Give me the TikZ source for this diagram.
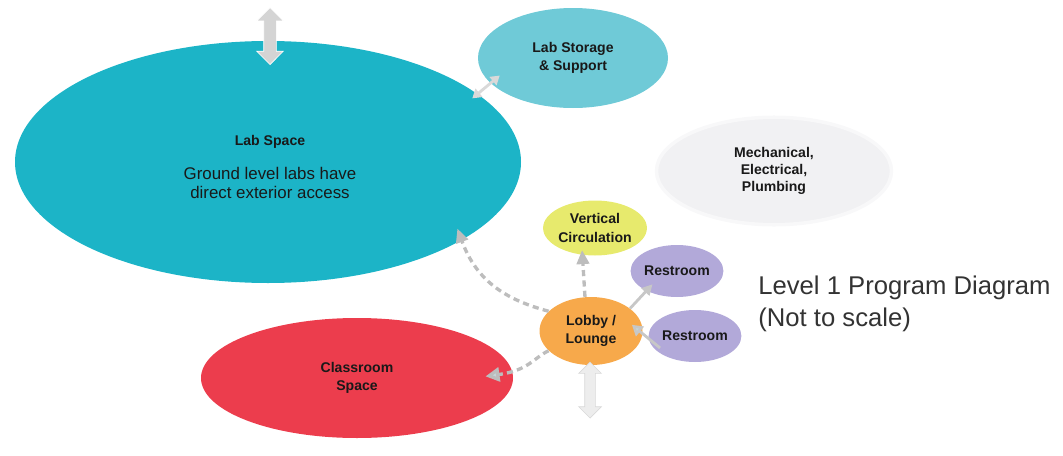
\documentclass[tikz,border=0pt]{standalone}
\usepackage{fontspec}
\setmainfont{Liberation Sans}
\usetikzlibrary{shapes.geometric,shapes.arrows,arrows.meta}

\definecolor{labblue}{HTML}{1CB4C7}
\definecolor{storageblue}{HTML}{6FCAD7}
\definecolor{mepgray}{HTML}{F1F1F3}
\definecolor{vertyellow}{HTML}{E7EA6D}
\definecolor{restpurple}{HTML}{B2A9D9}
\definecolor{lobbyorange}{HTML}{F7A94B}
\definecolor{classred}{HTML}{EC3D4D}
\definecolor{linkgray}{HTML}{BDBDBD}
\definecolor{tipteal}{HTML}{C6D6D9}

\begin{document}
\begin{tikzpicture}[
        zone/.style={ellipse, inner sep=0pt, text=black!90, align=center, font=\bfseries\fontsize{8}{10.5}\selectfont},
        dashlink/.style={draw=linkgray, line width=1.9pt, dash pattern=on 3.5pt off 2.4pt, -{Triangle[length=8pt,width=7pt]}},
        thinlink/.style={draw=black!22, line width=1.6pt},
        accessarrow/.style={double arrow, shape border rotate=90, double arrow head extend=0.14cm, inner sep=0.12cm, minimum width=0.52cm},
    ]
        \useasboundingbox (0,0) rectangle (21.26,-9.12);

        %Nodes
        \node[zone, fill=labblue, minimum width=10.12cm, minimum height=4.84cm] (labspace) at (5.36,-3.24) {};
        \node[text=black!90, align=center, font=\fontsize{9.6}{10.8}\selectfont] (labtext) at (5.4,-3.34)
            {{\bfseries\fontsize{8}{10}\selectfont Lab Space}\\[9pt]Ground level labs have\\direct exterior access};
        \node[zone, fill=storageblue, minimum width=3.8cm, minimum height=2cm] (storage) at (11.46,-1.16) {Lab Storage\\\& Support};
        \node[zone, fill=mepgray, draw=mepgray!50, line width=2pt, minimum width=4.7cm, minimum height=2.15cm,
            font=\bfseries\fontsize{8}{9.6}\selectfont] (mep) at (15.48,-3.42) {Mechanical,\\Electrical,\\Plumbing};
        \node[zone, fill=vertyellow, minimum width=1.7cm, minimum height=1.1cm] (vertcirc) at (11.9,-4.56) {Vertical\\Circulation};
        \node[zone, fill=restpurple, minimum width=1.64cm, minimum height=1.04cm] (rest1) at (13.54,-5.42) {Restroom};
        \node[zone, fill=restpurple, minimum width=1.7cm, minimum height=1.04cm] (rest2) at (13.9,-6.72) {Restroom};
        \node[zone, fill=lobbyorange, minimum width=2.06cm, minimum height=1.36cm] (lobby) at (11.82,-6.62) {Lobby /\\Lounge};
        \node[zone, fill=classred, minimum width=6.24cm, minimum height=2.4cm] (classroom) at (7.14,-7.56) {Classroom\\Space};

        \node[anchor=west, inner sep=0pt, align=left, text=black!80, font=\fontsize{14.6}{18.1}\selectfont] (title) at (15.16,-6.08)
            {Level 1 Program Diagram\\(Not to scale)};

        % exterior access
        \node[accessarrow, fill=black!17, draw=white, minimum height=1.14cm] (topaccess) at (5.4,-0.72) {};
        \node[accessarrow, fill=black!7, draw=black!15, inner sep=0.1cm, double arrow head extend=0.12cm,
            minimum height=1.12cm, minimum width=0.44cm] (lobbyaccess) at (11.8,-7.8) {};

        %Lines
        \draw[thinlink, draw=black!15, {Triangle[length=5pt,width=6pt]}-{Triangle[length=5pt,width=6pt]},
            shorten <=-0.14cm, shorten >=-0.24cm] (labspace.18) -- (storage.197);
        \draw[dashlink, shorten >=-0.25cm] (lobby.155) to[out=165,in=-70] (labspace.-22);
        \draw[dashlink, shorten >=-0.1cm] (lobby.100) -- (vertcirc.245);
        \draw[dashlink, -{Triangle[length=8pt,width=8pt,fill=tipteal]}, shorten >=-0.55cm] (lobby.205) to[out=205,in=8] (classroom.2);
        \draw[thinlink, -{Triangle[length=6pt,width=6pt]}, shorten >=-0.18cm] (lobby.30) -- (rest1.213);
        \draw[thinlink, -{Triangle[length=6pt,width=7pt,fill=tipteal]}, shorten <=-0.3cm, shorten >=-0.28cm] (rest2.183) -- (lobby.-3);
    \end{tikzpicture}
\end{document}
